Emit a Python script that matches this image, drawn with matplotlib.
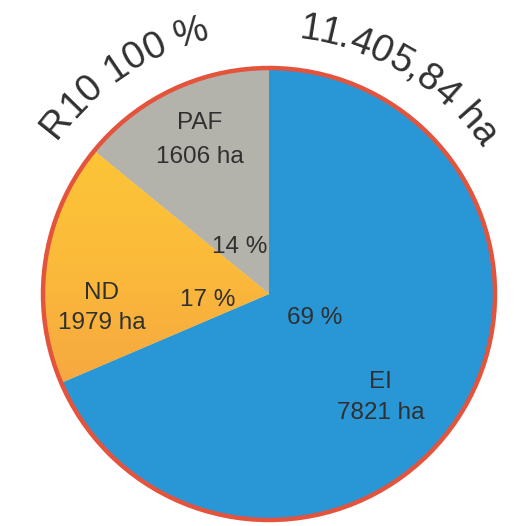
import numpy as np
import matplotlib
matplotlib.use("Agg")
import matplotlib.pyplot as plt
from matplotlib.patches import Circle
from matplotlib.colors import LinearSegmentedColormap
from matplotlib.font_manager import FontProperties

# ---- data ----
categories = ["PAF", "ND", "EI"]
areas_ha = [1606, 1979, 7821]
pct_labels = ["14 %", "17 %", "69 %"]
colors = ["#b4b3ab", "#fbbd3a", "#2996d6"]
title_left = "R10 100 %"
title_right = "11.405,84 ha"

W, H = 514, 526
fig = plt.figure(figsize=(W / 100, H / 100), dpi=100)
ax = fig.add_axes([0, 0, 1, 1])

cx, cy = 269, H - 294
R = 226

wedges, _ = ax.pie(areas_ha, colors=colors, startangle=90, counterclock=True,
                   center=(cx, cy), radius=R,
                   wedgeprops=dict(linewidth=0))

# yellow-to-orange gradient inside the ND wedge
nd = wedges[categories.index("ND")]
grad_cmap = LinearSegmentedColormap.from_list("nd", ["#fdc936", "#fbbb3a", "#f5a342"])
grad = np.linspace(0, 1, 256).reshape(-1, 1)
im = ax.imshow(grad, cmap=grad_cmap, extent=(cx - R, cx, cy - R * 0.55, cy + R * 0.85),
               origin="upper", aspect="auto", zorder=2)
im.set_clip_path(nd)

ax.add_patch(Circle((cx, cy), R, fill=False, edgecolor="#e4533c", linewidth=3.2, zorder=5))

ax.set_xlim(0, W)
ax.set_ylim(0, H)
ax.set_aspect("equal")
ax.axis("off")

fp = FontProperties(family="Liberation Sans", size=17.5)
tc = "#303030"

def img(x, y):
    return x, H - y

# labels (name + area) and percentages
name_pos = {"PAF": (200, 123), "ND": (102, 293), "EI": (380, 382)}
area_pos = {"PAF": (200, 157), "ND": (102, 323), "EI": (381, 413)}
pct_pos = {"PAF": (240, 247), "ND": (208, 300), "EI": (315, 318)}
for cat, a, p in zip(categories, areas_ha, pct_labels):
    ax.text(*img(*name_pos[cat]), cat, ha="center", va="center", fontproperties=fp, color=tc, zorder=6)
    ax.text(*img(*area_pos[cat]), f"{a} ha", ha="center", va="center", fontproperties=fp, color=tc, zorder=6)
    ax.text(*img(*pct_pos[cat]), p, ha="center", va="center", fontproperties=fp, color=tc, zorder=6)

# curved titles
fig.canvas.draw()
renderer = fig.canvas.get_renderer()
fpt = FontProperties(family="Liberation Sans", size=27.5)

def width(s):
    if s == "":
        return 0.0
    w, h, d = renderer.get_text_width_height_descent(s, fpt, ismath=False)
    return w

def arc_text(s, center_angle_deg, r):
    total = width(s)
    theta_c = np.deg2rad(center_angle_deg)
    for i, ch in enumerate(s):
        start = width(s[:i])
        end = width(s[:i + 1])
        mid = (start + end) / 2 - total / 2
        th = theta_c - mid / r
        x = cx + r * np.cos(th)
        y = cy + r * np.sin(th)
        if ch.strip():
            ax.text(x, y, ch, ha="center", va="baseline", rotation=np.rad2deg(th) - 90,
                    rotation_mode="anchor", fontproperties=fpt, color=tc)

arc_text(title_left, 123.5, 262)
arc_text(title_right, 59.0, 257)

fig.savefig("out.png", dpi=100)
